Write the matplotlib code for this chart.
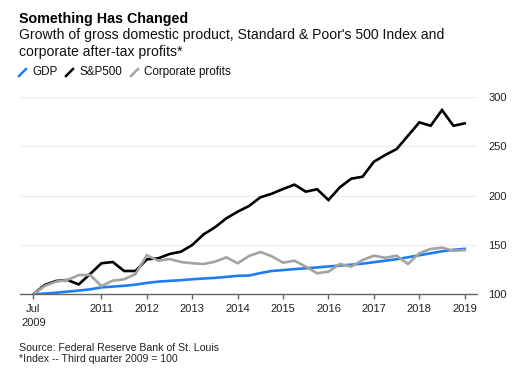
import numpy as np
import matplotlib
matplotlib.use("Agg")
import matplotlib.pyplot as plt
from matplotlib.lines import Line2D

plt.rcParams['font.family'] = ['Liberation Sans', 'DejaVu Sans']

# quarterly index values, Q3 2009 = 100 (Q3 2009 .. Q1 2019)
gdp = [100, 100.7, 101.6, 102.7, 103.8, 105.0, 107.0, 107.8, 108.6, 109.8,
       111.5, 112.8, 113.6, 114.3, 115.2, 116.0, 116.6, 117.6, 118.7, 119.0,
       121.5, 123.6, 124.5, 125.5, 126.3, 127.2, 128.2, 129.0, 130.0, 131.0,
       132.5, 134.0, 135.5, 137.5, 139.5, 141.5, 143.5, 145.0, 146.0]
sp500 = [100, 109.4, 113.5, 114.5, 110.0, 120.5, 131.4, 132.7, 123.6, 123.6,
         135.4, 136.4, 140.8, 143.1, 149.9, 160.7, 167.8, 176.9, 183.6, 189.4,
         198.2, 201.8, 206.6, 211.0, 203.9, 206.3, 195.4, 208.3, 217.0, 219.0,
         234.2, 241.0, 247.0, 260.5, 274.0, 270.6, 286.5, 270.6, 273.0]
profits = [100, 108.4, 112.8, 114.5, 119.5, 119.5, 108.4, 113.8, 115.2, 120.5,
           139.5, 134.0, 135.7, 132.7, 131.4, 130.7, 133.0, 137.4, 131.4, 138.8,
           142.8, 138.5, 132.0, 134.0, 128.0, 121.3, 122.9, 130.7, 128.0, 134.7,
           139.1, 137.0, 139.1, 130.7, 141.5, 145.9, 147.2, 144.1, 144.8]
quarters = 2009.5 + 0.25 * np.arange(len(gdp))

tick_pos = [2009.5, 2011, 2012, 2013, 2014, 2015, 2016, 2017, 2018, 2019]
tick_lab = ["Jul\n2009", "2011", "2012", "2013", "2014", "2015", "2016", "2017", "2018", "2019"]
y_ticks = [100, 150, 200, 250, 300]

blue = '#1f7cf2'
black = '#000000'
gray = '#a3a3a3'

W, H = 530, 376
fig = plt.figure(figsize=(W / 100, H / 100), dpi=100)
ax = fig.add_axes([20 / W, (H - 294.3) / H, (477 - 20) / W, (294.3 - 96.7) / H])

ax.plot(quarters, gdp, color=blue, lw=1.9, solid_joinstyle='miter', zorder=3)
ax.plot(quarters, sp500, color=black, lw=1.9, solid_joinstyle='miter', zorder=4)
ax.plot(quarters, profits, color=gray, lw=1.9, solid_joinstyle='miter', zorder=5)

ax.set_xlim(2009.207, 2019.27)
ax.set_ylim(100, 300)
ax.set_xticks(tick_pos)
ax.set_xticklabels(tick_lab, fontsize=8, color='#222222', linespacing=1.45)
ax.set_yticks(y_ticks)
ax.set_yticklabels([str(v) for v in y_ticks], fontsize=8, color='#222222', ha='left')
ax.yaxis.tick_right()
ax.tick_params(axis='y', length=0, pad=8)
ax.tick_params(axis='x', length=3.5, width=1, color='#666666', pad=3.5)
for v in y_ticks[1:]:
    ax.axhline(v, color='#eeeeee', lw=1, zorder=1)
for s in ['top', 'left', 'right']:
    ax.spines[s].set_visible(False)
ax.spines['bottom'].set_color('#666666')
ax.spines['bottom'].set_linewidth(1)
ax.spines['bottom'].set_zorder(6)
ax.set_facecolor('white')

# header
fig.text(19 / W, 1 - 19 / H, "Something Has Changed", fontsize=10.3, fontweight='bold',
         va='center', ha='left', color='#000000')
fig.text(19 / W, 1 - 35 / H, "Growth of gross domestic product, Standard & Poor's 500 Index and",
         fontsize=10.1, va='center', ha='left', color='#111111')
fig.text(19 / W, 1 - 52 / H, "corporate after-tax profits*",
         fontsize=10.1, va='center', ha='left', color='#111111')

# legend
legend_items = [("GDP", blue, 19), ("S&P500", black, 66), ("Corporate profits", gray, 131)]
for label, col, x0 in legend_items:
    fig.add_artist(Line2D([x0 / W, (x0 + 7) / W], [1 - 76 / H, 1 - 69 / H],
                          color=col, lw=1.8, transform=fig.transFigure))
    fig.text((x0 + 13) / W, 1 - 72 / H, label, fontsize=8.4, va='center', ha='left', color='#111111')

# footer
fig.text(19 / W, 1 - 348 / H, "Source: Federal Reserve Bank of St. Louis",
         fontsize=7.6, va='center', ha='left', color='#222222')
fig.text(19 / W, 1 - 359 / H, "*Index -- Third quarter 2009 = 100",
         fontsize=7.6, va='center', ha='left', color='#222222')

fig.savefig("out.png", dpi=100, facecolor='white')
